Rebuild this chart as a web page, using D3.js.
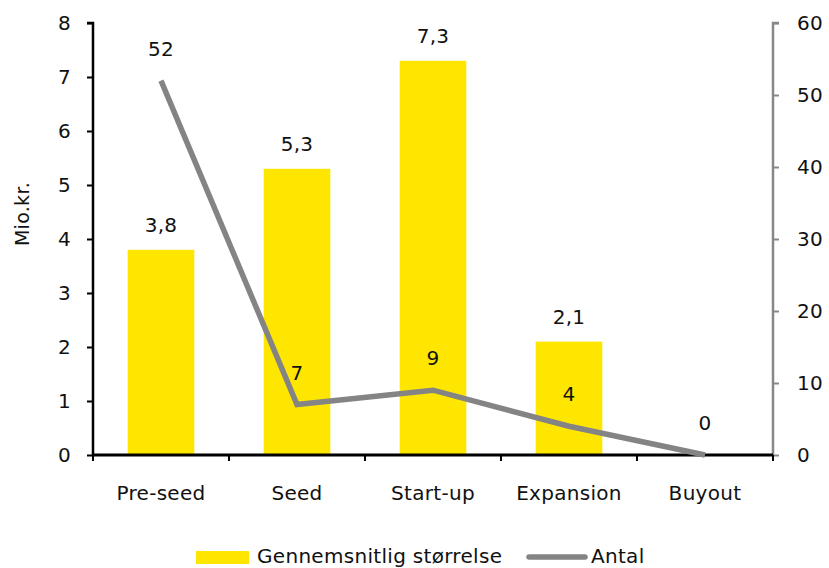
<!DOCTYPE html>
<html><head><meta charset="utf-8">
<script src="https://cdn.jsdelivr.net/npm/d3@7"></script>
<style>body{margin:0;background:#fff}svg{display:block}text{font-family:"DejaVu Sans",sans-serif;fill:#111;letter-spacing:0.3px}</style>
</head><body><svg id="c" width="829" height="568"></svg>
<script>
const categories = ["Pre-seed","Seed","Start-up","Expansion","Buyout"];
const avgSize = [3.8, 5.3, 7.3, 2.1, 0];
const avgLabels = ["3,8","5,3","7,3","2,1",""];
const counts = [52, 7, 9, 4, 0];
const leftTicks = [0,1,2,3,4,5,6,7,8];
const rightTicks = [0,10,20,30,40,50,60];
const seriesNames = ["Gennemsnitlig størrelse","Antal"];

const svg = d3.select("#c");
const L = 93, R = 773, T = 23, B = 455;
const fs = 20;
const x = d3.scaleBand().domain(categories).range([L, R]).paddingInner(0.51).paddingOuter(0.255);
const xb = d3.scaleBand().domain(categories).range([L, R]);
const yL = d3.scaleLinear().domain([0, 8]).range([B, T]);
const yR = d3.scaleLinear().domain([0, 60]).range([B, T]);

// bars
svg.selectAll("rect.bar").data(categories).join("rect")
  .attr("x", d => x(d)).attr("width", x.bandwidth())
  .attr("y", (d,i) => yL(avgSize[i])).attr("height", (d,i) => B - yL(avgSize[i]))
  .attr("fill", "#FFE600");

// left axis
const gl = svg.append("g").attr("transform", `translate(${L},0)`)
  .call(d3.axisLeft(yL).tickValues(leftTicks).tickSize(6).tickFormat(d3.format("d")));
gl.select(".domain").attr("stroke", "#000").attr("stroke-width", 2.5).attr("d", `M-6,${T}H0V${B}`);
gl.selectAll(".tick line").attr("stroke", "#000").attr("stroke-width", 2);
gl.selectAll(".tick text").attr("font-size", fs).attr("x", -22).attr("fill", "#111");

// right axis
const gr = svg.append("g").attr("transform", `translate(${R},0)`)
  .call(d3.axisRight(yR).tickValues(rightTicks).tickSize(6).tickFormat(d3.format("d")));
gr.select(".domain").attr("stroke", "#888").attr("stroke-width", 2.5).attr("d", `M6,${T}H0V${B}`);
gr.selectAll(".tick line").attr("stroke", "#888").attr("stroke-width", 2);
gr.selectAll(".tick text").attr("font-size", fs).attr("x", 24).attr("fill", "#111");

// bottom axis
const gb = svg.append("g").attr("transform", `translate(0,${B})`)
  .call(d3.axisBottom(xb).tickSize(0));
gb.select(".domain").attr("stroke", "#000").attr("stroke-width", 3).attr("d", `M${L},0H${R}`);
gb.selectAll(".tick text").attr("font-size", fs).attr("y", 31).attr("fill", "#111");
const bounds = categories.map(c => xb(c)).concat([R]);
gb.selectAll("line.sep").data(bounds).join("line")
  .attr("x1", d => d).attr("x2", d => d).attr("y1", 0).attr("y2", 6)
  .attr("stroke", "#000").attr("stroke-width", 2);

// y label
svg.append("text").attr("transform", `translate(29,214) rotate(-90)`)
  .attr("text-anchor", "middle").attr("font-size", fs-1).text("Mio.kr.");

// bar labels
svg.selectAll("text.bl").data(categories).join("text")
  .attr("x", d => x(d) + x.bandwidth()/2).attr("y", (d,i) => yL(avgSize[i]) - 18)
  .attr("text-anchor", "middle").attr("font-size", fs).text((d,i) => avgLabels[i]);

// line
const cx = d => xb(d) + xb.bandwidth()/2;
const line = d3.line().x((d,i) => cx(categories[i])).y(d => yR(d));
svg.append("path").datum(counts).attr("d", line).attr("fill", "none")
  .attr("stroke", "#848484").attr("stroke-width", 5.5).attr("stroke-linejoin", "miter");

svg.selectAll("text.ll").data(categories).join("text")
  .attr("x", d => cx(d)).attr("y", (d,i) => yR(counts[i]) - 25)
  .attr("text-anchor", "middle").attr("font-size", fs).text((d,i) => counts[i]);

// legend
const lg = svg.append("g");
lg.append("rect").attr("x", 196).attr("y", 551).attr("width", 53).attr("height", 13).attr("fill", "#FFE600");
lg.append("text").attr("x", 257).attr("y", 563).attr("font-size", fs).attr("letter-spacing", "0.1px").text(seriesNames[0]);
lg.append("line").attr("x1", 529).attr("x2", 585).attr("y1", 557).attr("y2", 557)
  .attr("stroke", "#848484").attr("stroke-width", 5.5).attr("stroke-linecap", "round");
lg.append("text").attr("x", 591).attr("y", 563).attr("font-size", fs).text(seriesNames[1]);
</script></body></html>
